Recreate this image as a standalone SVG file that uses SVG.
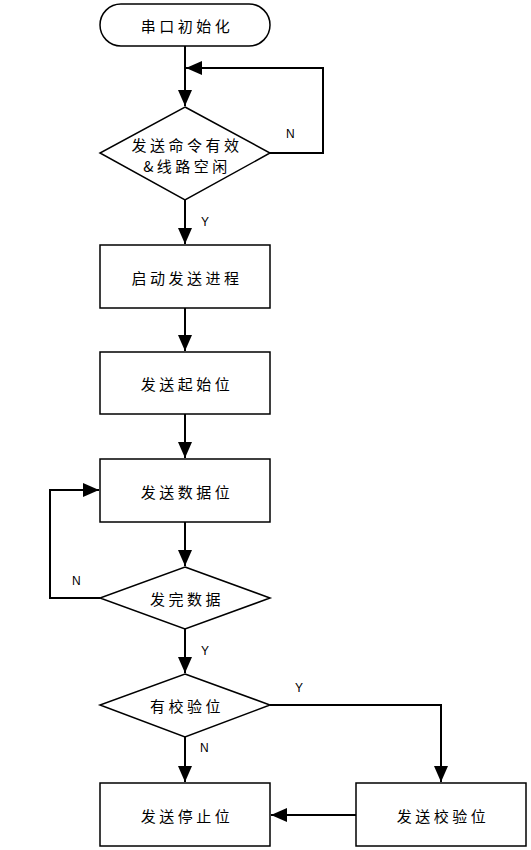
<svg xmlns="http://www.w3.org/2000/svg" width="531" height="850" viewBox="0 0 531 850">
<style>
.s{fill:#fff;stroke:#000;stroke-width:1.5}
.c{fill:none;stroke:#000;stroke-width:2}
.t{font-family:"Noto Sans CJK SC","Liberation Sans",sans-serif;font-size:15px;letter-spacing:3.5px;text-anchor:middle;dominant-baseline:central;fill:#000}
.l{font-family:"Liberation Sans",Arial,sans-serif;font-size:12px;fill:#000}
</style>
<defs>
<marker id="a" viewBox="0 0 16 14" refX="16" refY="7" markerWidth="16" markerHeight="14" markerUnits="userSpaceOnUse" orient="auto">
<path d="M0,0L16,7L0,14Z" fill="#000"/>
</marker>
</defs>
<rect width="531" height="850" fill="#fff"/>
<g id="connectors">
<path class="c" d="M185,46V106" marker-end="url(#a)"/>
<path class="c" d="M270,153H323V68H186" marker-end="url(#a)"/>
<path class="c" d="M185,200V244" marker-end="url(#a)"/>
<path class="c" d="M185,308V351" marker-end="url(#a)"/>
<path class="c" d="M185,414V458" marker-end="url(#a)"/>
<path class="c" d="M185,522V566" marker-end="url(#a)"/>
<path class="c" d="M100,598H50V490H99" marker-end="url(#a)"/>
<path class="c" d="M185,629V673" marker-end="url(#a)"/>
<path class="c" d="M270,705H441V782" marker-end="url(#a)"/>
<path class="c" d="M185,737V782" marker-end="url(#a)"/>
<path class="c" d="M356,815H271" marker-end="url(#a)"/>
<text class="l" x="286" y="138">N</text>
<text class="l" x="201" y="226">Y</text>
<text class="l" x="72" y="585">N</text>
<text class="l" x="201" y="655">Y</text>
<text class="l" x="295" y="692">Y</text>
<text class="l" x="200" y="752">N</text>
</g>
<g id="start">
<rect class="s" x="100" y="4" width="170" height="42" rx="21"/>
<text class="t" x="187" y="25">串口初始化</text>
</g>
<g id="check">
<path class="s" d="M185,107L270,153L185,200L100,153Z"/>
<text class="t" x="187" y="144">发送命令有效</text>
<text class="t" x="187" y="165">&amp;线路空闲</text>
</g>
<g id="startproc">
<rect class="s" x="100" y="245" width="170" height="63"/>
<text class="t" x="187" y="277">启动发送进程</text>
</g>
<g id="startbit">
<rect class="s" x="100" y="352" width="170" height="62"/>
<text class="t" x="187" y="383">发送起始位</text>
</g>
<g id="databit">
<rect class="s" x="100" y="459" width="170" height="63"/>
<text class="t" x="187" y="491">发送数据位</text>
</g>
<g id="datadone">
<path class="s" d="M185,567L270,598L185,629L100,598Z"/>
<text class="t" x="187" y="598">发完数据</text>
</g>
<g id="parity">
<path class="s" d="M185,674L270,705L185,737L100,705Z"/>
<text class="t" x="187" y="705">有校验位</text>
</g>
<g id="stopbit">
<rect class="s" x="100" y="783" width="170" height="63"/>
<text class="t" x="187" y="815">发送停止位</text>
</g>
<g id="paritybit">
<rect class="s" x="356" y="783" width="170" height="63"/>
<text class="t" x="443" y="815">发送校验位</text>
</g>
</svg>
